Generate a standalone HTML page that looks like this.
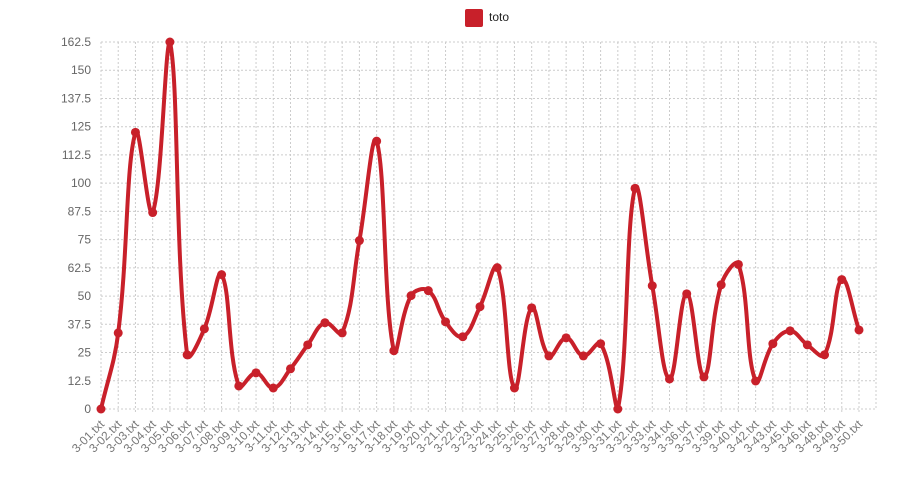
<!DOCTYPE html>
<html><head><meta charset="utf-8"><style>
html,body{margin:0;padding:0;background:#fff;width:910px;height:477px;overflow:hidden}
svg text{font-family:"Liberation Sans",sans-serif}
</style></head><body>
<svg id="chart" width="910" height="477"></svg>
<script>
const categories=["3-01","3-02","3-03","3-04","3-05","3-06","3-07","3-08","3-09","3-10","3-11","3-12","3-13","3-14","3-15","3-16","3-17","3-18","3-19","3-20","3-21","3-22","3-23","3-24","3-25","3-26","3-27","3-28","3-29","3-30","3-31","3-32","3-33","3-34","3-36","3-37","3-39","3-40","3-42","3-43","3-45","3-46","3-48","3-49","3-50"].map(s=>s+".txt");
const values=[0,33.7,122.5,87,162.5,24,35.5,59.5,10.2,16,9.3,17.8,28.4,38.2,33.7,74.6,118.6,25.8,50.2,52.4,38.6,32,45.3,62.6,9.3,44.8,23.5,31.5,23.5,28.9,0,97.7,54.6,13.3,51,14.2,55,64,12.4,28.9,34.6,28.4,24,57.3,35];
const yTicks=[0,12.5,25,37.5,50,62.5,75,87.5,100,112.5,125,137.5,150,162.5];
const seriesName="toto";

const NS="http://www.w3.org/2000/svg";
const svg=document.getElementById('chart');
const X0=101,X1=859,Y0=409,Y1=42,YMAX=162.5,GRIDR=876;
const xs=i=>X0+(X1-X0)*i/(categories.length-1);
const ys=v=>Y0-(Y0-Y1)*v/YMAX;
function mk(t,a){const e=document.createElementNS(NS,t);for(const k in a)e.setAttribute(k,a[k]);svg.appendChild(e);return e;}
yTicks.forEach(t=>{
  const l=mk('line',{x1:X0,x2:GRIDR,y1:ys(t),y2:ys(t),stroke:'#ccc','stroke-dasharray':'2,2'});
  
  
  const tx=mk('text',{x:91,y:ys(t)+4,'text-anchor':'end','font-size':12,fill:'#666'});
  tx.textContent=t;
  
  
});
categories.forEach((c,i)=>{
  const x=xs(i);
  const l=mk('line',{x1:x,x2:x,y1:Y1,y2:Y0+4,stroke:'#ccc','stroke-dasharray':'2,2'});
  
  
  const tx=mk('text',{x:x+4,y:Y0+16,'text-anchor':'end','font-size':12,fill:'#777',transform:`rotate(-45 ${x+4} ${Y0+16})`});
  tx.textContent=c;
  
  
});
{const x=GRIDR;const l=mk('line',{x1:x,x2:x,y1:Y1,y2:Y0,stroke:'#ccc','stroke-dasharray':'2,2'});

}
// Chart.js-style spline
const pts=values.map((v,i)=>[xs(i),ys(v)]);
const T=0.4;
const ctrl=pts.map((p,i)=>{
  const a=pts[Math.max(0,i-1)],b=pts[Math.min(pts.length-1,i+1)];
  const d01=Math.hypot(p[0]-a[0],p[1]-a[1]),d12=Math.hypot(b[0]-p[0],b[1]-p[1]);
  const s=d01+d12||1;
  const fa=T*d01/s,fb=T*d12/s;
  const cl=y=>Math.max(Y1,Math.min(Y0,y));
  return {prev:[p[0]-fa*(b[0]-a[0]),cl(p[1]-fa*(b[1]-a[1]))],next:[p[0]+fb*(b[0]-a[0]),cl(p[1]+fb*(b[1]-a[1]))]};
});
let d=`M${pts[0][0]},${pts[0][1]}`;
for(let i=0;i<pts.length-1;i++){
  const c1=ctrl[i].next,c2=ctrl[i+1].prev,p2=pts[i+1];
  d+=` C${c1[0]},${c1[1]} ${c2[0]},${c2[1]} ${p2[0]},${p2[1]}`;
}
const path=mk('path',{d:d,fill:'none',stroke:'#c8202a','stroke-width':4,'stroke-linejoin':'round'});


pts.forEach(p=>{
  const c=mk('circle',{cx:p[0],cy:p[1],r:4.5,fill:'#c8202a'});
  
  
});
const lb=mk('rect',{x:465,y:9,width:18,height:18,rx:2,fill:'#c8202a'});


const lt=mk('text',{x:489,y:21,'font-size':12,fill:'#222'});
lt.textContent=seriesName;


</script>
</body></html>
